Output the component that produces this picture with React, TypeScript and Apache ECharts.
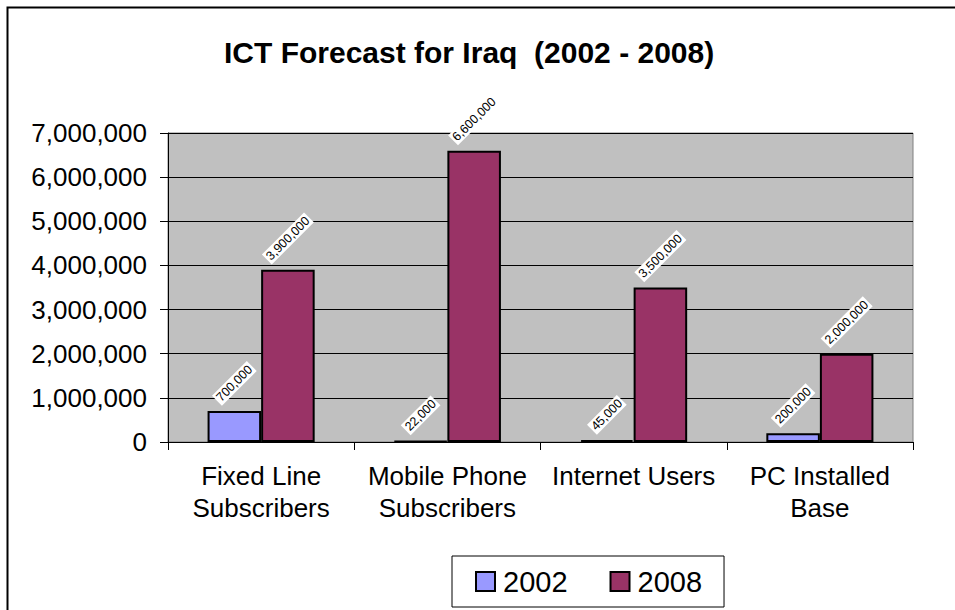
import React, { useEffect, useRef } from "react";
import * as echarts from "echarts";

const categories = [
  "Fixed Line\nSubscribers",
  "Mobile Phone\nSubscribers",
  "Internet Users",
  "PC Installed\nBase",
];
const seriesNames = ["2002", "2008"];
const values2002 = [700000, 22000, 45000, 200000];
const values2008 = [3900000, 6600000, 3500000, 2000000];
const yTicks = { min: 0, max: 7000000, interval: 1000000 };
const titleText = "ICT Forecast for Iraq  (2002 - 2008)";

const FONT = "'Liberation Sans', Arial, Helvetica, sans-serif";
const LABEL_SIZE = 12.5;
const fmt = (v: number) => v.toLocaleString("en-US");

// distance of a rotated label's centre above the bar top, from the label's length
const labelDistance = (v: number) => {
  const s = fmt(v);
  const commas = (s.match(/,/g) || []).length;
  const digits = s.length - commas;
  const w = LABEL_SIZE * (digits * 0.556 + commas * 0.278) + 4;
  const h = 15;
  return (w + h) / (2 * Math.SQRT2) + 5;
};

const makeData = (vals: number[]) =>
  vals.map((v) => ({ value: v, label: { distance: labelDistance(v) } }));

export default function App() {
  const ref = useRef<HTMLDivElement>(null);
  useEffect(() => {
    if (!ref.current) return;
    const chart = echarts.init(ref.current, null, { renderer: "svg" });
    const barLabel = {
      show: true,
      position: "top",
      rotate: 45,
      align: "center",
      verticalAlign: "middle",
      formatter: (p: any) => fmt(p.value),
      fontSize: LABEL_SIZE,
      fontFamily: FONT,
      color: "#000",
      backgroundColor: "#fff",
      padding: [1, 2, 0, 2],
    };
    chart.setOption({
      animation: false,
      backgroundColor: "#fff",
      textStyle: { fontFamily: FONT },
      title: {
        text: titleText,
        left: 224,
        top: 35,
        padding: 0,
        textStyle: {
          fontFamily: FONT,
          fontSize: 30,
          fontWeight: "bold",
          color: "#000",
          lineHeight: 34,
        },
      },
      graphic: [
        {
          type: "rect",
          shape: { x: 7.5, y: 7.5, width: 1000, height: 700 },
          style: { fill: "none", stroke: "#000", lineWidth: 2 },
          silent: true,
        },
      ],
      legend: {
        data: seriesNames,
        left: 452,
        top: 556,
        orient: "horizontal",
        padding: [11, 22, 11, 23],
        itemWidth: 19,
        itemHeight: 19,
        itemGap: 42,
        icon: "rect",
        borderColor: "#000",
        borderWidth: 1,
        backgroundColor: "#fff",
        textStyle: {
          fontFamily: FONT,
          fontSize: 29,
          color: "#000",
          padding: [0, 0, 0, 3],
        },
      },
      grid: {
        left: 168,
        top: 133,
        width: 745,
        height: 309,
        show: true,
        backgroundColor: "#C0C0C0",
        borderColor: "#808080",
        borderWidth: 1,
      },
      xAxis: {
        type: "category",
        data: categories,
        boundaryGap: true,
        axisLine: { show: true, lineStyle: { color: "#000", width: 1 } },
        axisTick: {
          show: true,
          inside: false,
          length: 8,
          alignWithLabel: false,
          lineStyle: { color: "#000" },
        },
        axisLabel: {
          interval: 0,
          margin: 18,
          fontFamily: FONT,
          fontSize: 26,
          lineHeight: 32,
          color: "#000",
          align: "center",
        },
        splitLine: { show: false },
      },
      yAxis: {
        type: "value",
        min: yTicks.min,
        max: yTicks.max,
        interval: yTicks.interval,
        axisLine: { show: true, lineStyle: { color: "#000", width: 1 } },
        axisTick: {
          show: true,
          inside: false,
          length: 8,
          lineStyle: { color: "#000" },
        },
        axisLabel: {
          margin: 21,
          fontFamily: FONT,
          fontSize: 26,
          color: "#000",
          formatter: (v: number) => fmt(v),
        },
        splitLine: { show: true, lineStyle: { color: "#000", width: 1 } },
      },
      series: [
        {
          name: seriesNames[0],
          type: "bar",
          data: makeData(values2002),
          barGap: "0%",
          barCategoryGap: "42.5%",
          itemStyle: { color: "#9999FF", borderColor: "#000", borderWidth: 2 },
          label: barLabel,
        },
        {
          name: seriesNames[1],
          type: "bar",
          data: makeData(values2008),
          barGap: "0%",
          barCategoryGap: "42.5%",
          itemStyle: { color: "#993366", borderColor: "#000", borderWidth: 2 },
          label: barLabel,
        },
      ],
    });
    return () => chart.dispose();
  }, []);
  return (
    <div
      ref={ref}
      style={{ position: "absolute", left: 0, top: 0, width: 955, height: 610 }}
    />
  );
}
